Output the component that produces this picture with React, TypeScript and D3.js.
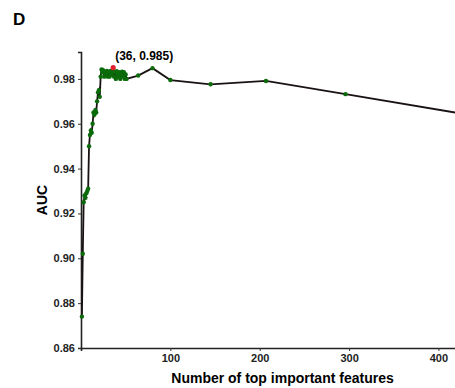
import React, { useEffect, useRef } from 'react';
import * as d3 from 'd3';

// number of features kept -> AUC
const featureCounts = [
  1, 2, 3, 4, 5, 6, 7, 8, 9, 10,
  11, 12, 13, 14, 15, 16, 17, 18, 19, 20,
  21, 22, 23, 24, 25, 26, 27, 28, 29, 30,
  31, 32, 33, 34, 35, 36, 37, 38, 39, 40,
  41, 42, 43, 44, 45, 46, 47, 48, 49, 50,
  51, 64, 80, 100, 145, 207, 296, 425,
];
const aucValues = [
  0.874, 0.902, 0.925, 0.928, 0.927, 0.929, 0.930, 0.931, 0.950, 0.955,
  0.957, 0.956, 0.960, 0.965, 0.964, 0.966, 0.965, 0.970, 0.974, 0.975,
  0.972, 0.981, 0.9842, 0.983, 0.9838, 0.981, 0.983, 0.982, 0.9835, 0.981,
  0.983, 0.981, 0.9836, 0.982, 0.983, 0.985, 0.981, 0.983, 0.980, 0.9834,
  0.982, 0.981, 0.983, 0.980, 0.982, 0.9832, 0.981, 0.983, 0.980, 0.982,
  0.980, 0.9815, 0.9848, 0.9795, 0.9776, 0.9791, 0.9732, 0.9646,
];
const bestIndex = 35; // 36 features
const yTicks = [0.86, 0.88, 0.9, 0.92, 0.94, 0.96, 0.98];
const xTicks = [100, 200, 300, 400];

const App = () => {
  const svgRef = useRef<SVGSVGElement>(null);

  useEffect(() => {
    const svg = d3.select(svgRef.current);
    svg.selectAll('*').remove();

    const margin = { top: 52, left: 81, bottom: 40 };
    const height = 388;
    const plotRight = 484; // original plot ran past the crop

    const x = d3.scaleLinear().domain([0, 451]).range([margin.left, plotRight]);
    const y = d3.scaleLinear().domain([0.86, 0.992]).range([height - margin.bottom, margin.top]);

    const data = featureCounts.map((f, i) => ({ f, v: aucValues[i] }));
    const font = 'Liberation Sans, Arial, sans-serif';

    // panel letter
    svg.append('text')
      .attr('x', 13).attr('y', 25)
      .attr('font-family', font).attr('font-weight', 'bold').attr('font-size', 17)
      .text('D');

    // axes
    const yAxis = svg.append('g')
      .attr('transform', `translate(${margin.left},0)`)
      .call(d3.axisLeft(y).tickValues(yTicks).tickFormat(d3.format('.2f')).tickSize(3).tickPadding(3));
    const xAxis = svg.append('g')
      .attr('transform', `translate(0,${height - margin.bottom})`)
      .call(d3.axisBottom(x).tickValues(xTicks).tickSize(3).tickPadding(3));
    [yAxis, xAxis].forEach(g => {
      g.select('.domain').attr('stroke', '#222').attr('stroke-width', 1.6);
      g.selectAll('.tick line').attr('stroke', '#333');
      g.selectAll('text')
        .attr('font-family', font).attr('font-weight', 'bold').attr('font-size', 11)
        .attr('fill', '#222');
    });

    svg.append('text')
      .attr('x', (margin.left + plotRight) / 2).attr('y', 383)
      .attr('text-anchor', 'middle')
      .attr('font-family', font).attr('font-weight', 'bold').attr('font-size', 14)
      .text('Number of top important features');

    svg.append('text')
      .attr('transform', `translate(47,${(margin.top + height - margin.bottom) / 2}) rotate(-90)`)
      .attr('text-anchor', 'middle')
      .attr('font-family', font).attr('font-weight', 'bold').attr('font-size', 14)
      .text('AUC');

    const line = d3.line<{ f: number; v: number }>().x(d => x(d.f)).y(d => y(d.v));
    svg.append('path')
      .datum(data)
      .attr('fill', 'none')
      .attr('stroke', '#1a1212')
      .attr('stroke-width', 1.8)
      .attr('d', line);

    svg.append('g')
      .selectAll('circle')
      .data(data)
      .join('circle')
      .attr('cx', d => x(d.f))
      .attr('cy', d => y(d.v))
      .attr('r', (d, i) => (i === bestIndex ? 2.6 : 2.2))
      .attr('fill', (d, i) => (i === bestIndex ? '#e0202a' : '#0b6b0b'));

    const best = data[bestIndex];
    svg.append('text')
      .attr('x', x(best.f) + 2)
      .attr('y', y(best.v) - 8)
      .attr('font-family', font).attr('font-weight', 'bold').attr('font-size', 12)
      .text(`(${best.f}, ${d3.format('.3f')(best.v)})`);
  }, []);

  return (
    <svg
      ref={svgRef}
      width={455}
      height={388}
      style={{ position: 'absolute', left: 0, top: 0, background: '#fff' }}
    />
  );
};

export default App;
